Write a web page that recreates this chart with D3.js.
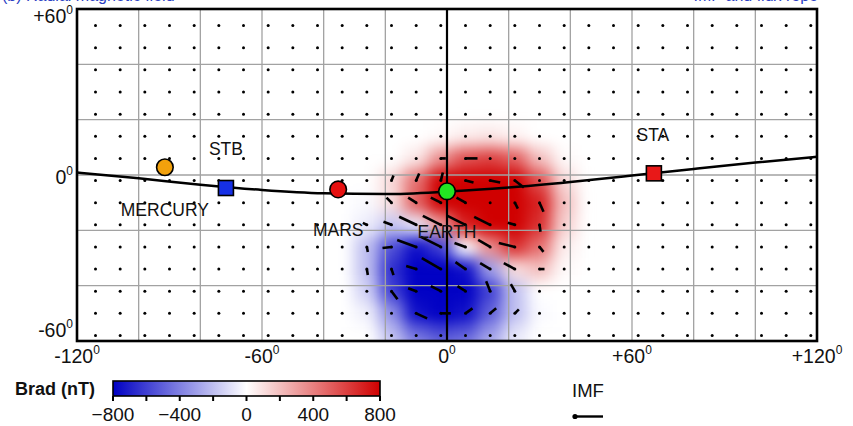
<!DOCTYPE html>
<html>
<head>
<meta charset="utf-8">
<script src="https://cdn.jsdelivr.net/npm/d3@7"></script>
<style>
  body { margin: 0; background: #ffffff; }
  svg { display: block; }
  text { font-family: "Liberation Sans", Arial, Helvetica, sans-serif; }
</style>
</head>
<body>
<svg id="chart" width="853" height="426"></svg>
<script>
// ---- Axis ticks ----------------------------------------------------------
const lonTickLabels = [-120, -60, 0, 60, 120];
const latTickLabels = [60, 0, -60];
const lonGrid = [-100, -80, -60, -40, -20, 20, 40, 60, 80, 100];
const latGrid = [40, 20, 0, -20, -40];
const cbarTickLabels = [-800, -400, 0, 400, 800];
const cbarTicks = [-800, -600, -400, -200, 0, 200, 400, 600, 800];

// ---- Ecliptic trace (heliographic latitude vs longitude, degrees) --------
const eclLon = [-120, -100, -80, -60, -40, -20, 0, 20, 40, 60, 80, 100, 120];
const eclLat = [0.9, -1.2, -3.5, -5.4, -6.6, -6.9, -6.0, -4.5, -2.5, -0.2, 2.2, 4.5, 6.6];

// ---- Bodies and spacecraft -----------------------------------------------
const bodyNames = ["MERCURY", "STB", "MARS", "EARTH", "STA"];
const bodyLon   = [-91.5, -71.7, -35.3, 0.0, 67.1];
const bodyLat   = [2.8, -4.7, -5.2, -5.9, 0.6];
const bodyShape = ["circle", "square", "circle", "circle", "square"];
const bodyColor = ["#f2a10c", "#1630e6", "#e61010", "#22e622", "#e81818"];

// ---- Radial field Brad (nT) on an 8-degree grid --------------------------
const fieldLon = [-42, -34, -26, -18, -10, -2, 6, 14, 22, 30, 38, 46];
const fieldLat = [22, 14, 6, -2, -10, -18, -26, -34, -42, -50, -58, -66];
const fieldBrad = [
  [0, 0, 0, 0, 0, 0, 0, 0, 0, 0, 0, 0],
  [0, 0, 0, 0, 0, 20, 60, 80, 40, 0, 0, 0],
  [0, 0, 0, 0, 80, 350, 550, 600, 500, 200, 20, 0],
  [0, 0, 0, 120, 450, 800, 800, 800, 800, 550, 120, 0],
  [0, 0, -20, 100, 500, 800, 800, 800, 800, 700, 200, 0],
  [0, 0, -60, -180, -60, 300, 700, 800, 800, 650, 150, 0],
  [0, 0, -200, -550, -750, -600, 0, 350, 650, 450, 60, 0],
  [0, 0, -200, -650, -800, -800, -750, -300, 100, 200, 20, 0],
  [0, 0, -150, -600, -800, -800, -800, -600, -200, 0, 0, 0],
  [0, 0, -50, -350, -750, -800, -750, -500, -200, -20, 0, 0],
  [0, 0, 0, -200, -450, -550, -500, -300, -80, 0, 0, 0],
  [0, 0, 0, -80, -200, -300, -250, -150, -40, 0, 0, 0]
];

// ---- Transverse field vectors (nT); all other grid points are zero -------
const vecLon = [-2, 6,
  -18, -10, -2, 6, 14, 22,
  -18, -10, -2, 6, 22, 30,
  -26, -18, -10, -2, 6, 14, 22, 30,
  -26, -18, -10, -2, 6, 14, 22, 30,
  -26, -18, -10, -2, 6, 14, 22, 30,
  -18, -10, -2, 6, 14, 22,
  -10, -2, 6, 14, 22];
const vecLat = [6, 6,
  -2, -2, -2, -2, -2, -2,
  -10, -10, -10, -10, -10, -10,
  -18, -18, -18, -18, -18, -18, -18, -18,
  -26, -26, -26, -26, -26, -26, -26, -26,
  -34, -34, -34, -34, -34, -34, -34, -34,
  -42, -42, -42, -42, -42, -42,
  -50, -50, -50, -50, -50];
const vecBx = [50, 120,
  20, 30, 20, 80, 100, 90,
  -50, -80, -100, -90, 30, 40,
  -40, -80, -170, -180, -180, -160, -70, 10,
  10, -90, -190, -200, -110, -120, -160, 40,
  10, 20, -100, -190, -100, -100, -110, 50,
  60, -80, -100, -80, -40, -40,
  110, 100, 70, 60, 40];
const vecBy = [0, 0,
  50, 70, 80, -20, -20, -70,
  50, 50, 50, 50, -60, -90,
  20, 30, 80, 90, 90, 80, 20, -70,
  -50, -10, 70, 100, 40, 70, 40, -50,
  -60, -60, 30, 110, 70, 60, 60, 0,
  -80, 30, 50, 50, 100, 70,
  -50, 0, 50, 50, 40];
const imfRef = 280; // legend vector magnitude (nT)

// ---- Layout ---------------------------------------------------------------
const svg = d3.select("#chart");
const plot = { left: 77, right: 817, top: 9, bottom: 341 };
const x = d3.scaleLinear().domain([-120, 120]).range([plot.left, plot.right]);
const y = d3.scaleLinear().domain([-60, 60]).range([plot.bottom, plot.top]);
const vecScale = d3.scaleLinear().domain([0, 100]).range([0, 10]);

const color = d3.scaleLinear()
  .domain([-800, 0, 800])
  .range(["#0000c4", "#ffffff", "#d00000"])
  .clamp(true);

const defs = svg.append("defs");
defs.append("clipPath").attr("id", "plotClip")
  .append("rect")
  .attr("x", plot.left).attr("y", plot.top)
  .attr("width", plot.right - plot.left).attr("height", plot.bottom - plot.top);
defs.append("filter").attr("id", "soft")
  .attr("x", "-30%").attr("y", "-30%").attr("width", "160%").attr("height", "160%")
  .attr("color-interpolation-filters", "sRGB")
  .append("feGaussianBlur").attr("stdDeviation", 7.5);

// Heading, cut by the top edge of the page
svg.append("text").attr("x", 2).attr("y", 1)
  .attr("font-size", 16).attr("fill", "#2b3fc4")
  .text("(b) Radial magnetic field");
svg.append("text").attr("x", 818).attr("y", 1).attr("text-anchor", "end")
  .attr("font-size", 16).attr("fill", "#2b3fc4")
  .text("IMF and flux rope");

// ---- Colour field ----------------------------------------------------------
const fieldCells = [];
fieldLat.forEach((lat, i) => fieldLon.forEach((lon, j) => {
  fieldCells.push({ lon, lat, v: fieldBrad[i][j] });
}));
const clipped = svg.append("g").attr("clip-path", "url(#plotClip)");
clipped.append("g").attr("filter", "url(#soft)")
  .selectAll("rect").data(fieldCells).join("rect")
  .attr("x", d => x(d.lon - 4))
  .attr("y", d => y(d.lat + 4))
  .attr("width", d => x(d.lon + 4) - x(d.lon - 4) + 0.5)
  .attr("height", d => y(d.lat - 4) - y(d.lat + 4) + 0.5)
  .attr("fill", d => color(d.v));

// ---- Grid ------------------------------------------------------------------
const grid = svg.append("g").attr("stroke", "#a2a2a2").attr("stroke-width", 1.3);
grid.selectAll("line.v").data(lonGrid).join("line").attr("class", "v")
  .attr("x1", d => x(d)).attr("x2", d => x(d))
  .attr("y1", plot.top).attr("y2", plot.bottom);
grid.selectAll("line.h").data(latGrid).join("line").attr("class", "h")
  .attr("x1", plot.left).attr("x2", plot.right)
  .attr("y1", d => y(d)).attr("y2", d => y(d));

// Central meridian
svg.append("line")
  .attr("x1", x(0)).attr("x2", x(0)).attr("y1", plot.top).attr("y2", plot.bottom)
  .attr("stroke", "#000").attr("stroke-width", 2.2);

// ---- Vector grid: dots at every sample, segments for the transverse field --
const sampleLon = d3.range(-114, 119, 8);
const sampleLat = d3.range(54, -59, -8);
const samples = [];
sampleLat.forEach(lat => sampleLon.forEach(lon => samples.push({ lon, lat })));
const vg = svg.append("g");
vg.selectAll("circle").data(samples).join("circle")
  .attr("cx", d => x(d.lon)).attr("cy", d => y(d.lat)).attr("r", 1.5)
  .attr("fill", "#000");
const vectors = vecLon.map((lon, i) => ({ lon, lat: vecLat[i], bx: vecBx[i], by: vecBy[i] }));
vg.selectAll("line").data(vectors).join("line")
  .attr("x1", d => x(d.lon)).attr("y1", d => y(d.lat))
  .attr("x2", d => x(d.lon) + vecScale(d.bx))
  .attr("y2", d => y(d.lat) - vecScale(d.by))
  .attr("stroke", "#000").attr("stroke-width", 2.6);

// ---- Ecliptic ------------------------------------------------------------------
const eclipticLine = d3.line()
  .x(d => x(d[0])).y(d => y(d[1]))
  .curve(d3.curveMonotoneX);
svg.append("path")
  .datum(eclLon.map((lon, i) => [lon, eclLat[i]]))
  .attr("d", eclipticLine)
  .attr("fill", "none").attr("stroke", "#000").attr("stroke-width", 2.5)
  .attr("clip-path", "url(#plotClip)");

// ---- Frame -------------------------------------------------------------------
svg.append("rect")
  .attr("x", plot.left).attr("y", plot.top)
  .attr("width", plot.right - plot.left).attr("height", plot.bottom - plot.top)
  .attr("fill", "none").attr("stroke", "#000").attr("stroke-width", 2.6);

// ---- Bodies ------------------------------------------------------------------
const bodies = bodyNames.map((name, i) => ({
  name, lon: bodyLon[i], lat: bodyLat[i], shape: bodyShape[i], fill: bodyColor[i]
}));
const bg = svg.append("g").attr("stroke", "#000").attr("stroke-width", 1.6);
bg.selectAll("circle").data(bodies.filter(b => b.shape === "circle")).join("circle")
  .attr("cx", d => x(d.lon)).attr("cy", d => y(d.lat)).attr("r", 8.3)
  .attr("fill", d => d.fill);
bg.selectAll("rect").data(bodies.filter(b => b.shape === "square")).join("rect")
  .attr("x", d => x(d.lon) - 7.5).attr("y", d => y(d.lat) - 7.5)
  .attr("width", 15).attr("height", 15)
  .attr("fill", d => d.fill);

// Body labels, placed beside each marker
const labelOffset = {
  MERCURY: [0, 49], STB: [0, -33], MARS: [0, 47], EARTH: [0, 47], STA: [-1, -32]
};
svg.append("g").selectAll("text").data(bodies).join("text")
  .attr("x", d => x(d.lon) + labelOffset[d.name][0])
  .attr("y", d => y(d.lat) + labelOffset[d.name][1])
  .attr("text-anchor", "middle")
  .attr("font-size", 17.5).attr("fill", "#111")
  .text(d => d.name);

// ---- Axis labels ---------------------------------------------------------------
function degLabel(sel, v) {
  const s = v > 0 ? "+" + v : (v < 0 ? "-" + Math.abs(v) : "0");
  sel.append("tspan").text(s);
  sel.append("tspan").attr("font-size", 12).attr("dy", -9).text("0");
}
lonTickLabels.forEach(v => {
  const t = svg.append("text").attr("x", x(v)).attr("y", 363)
    .attr("text-anchor", "middle").attr("font-size", 19.5).attr("fill", "#111");
  degLabel(t, v);
});
latTickLabels.forEach(v => {
  const shift = v === 60 ? 14 : (v === -60 ? -4 : 9);
  const t = svg.append("text").attr("x", 73).attr("y", y(v) + shift)
    .attr("text-anchor", "end").attr("font-size", 19.5).attr("fill", "#111");
  degLabel(t, v);
});

// ---- Colour bar ----------------------------------------------------------------
const cb = d3.scaleLinear().domain([-800, 800]).range([113, 380]);
const grad = defs.append("linearGradient").attr("id", "cbarGrad");
d3.range(-800, 801, 100).forEach(v => {
  grad.append("stop").attr("offset", (v + 800) / 1600).attr("stop-color", color(v));
});
svg.append("rect").attr("x", cb(-800)).attr("y", 381)
  .attr("width", cb(800) - cb(-800)).attr("height", 15)
  .attr("fill", "url(#cbarGrad)").attr("stroke", "#000").attr("stroke-width", 1.6);
svg.append("g").selectAll("line").data(cbarTicks).join("line")
  .attr("x1", d => cb(d)).attr("x2", d => cb(d)).attr("y1", 396).attr("y2", 401)
  .attr("stroke", "#000").attr("stroke-width", 2);
svg.append("g").selectAll("text").data(cbarTickLabels).join("text")
  .attr("x", d => cb(d)).attr("y", 421).attr("text-anchor", "middle")
  .attr("font-size", 19).attr("fill", "#111")
  .text(d => d < 0 ? "\u2212" + Math.abs(d) : String(d));
svg.append("text").attr("x", 15).attr("y", 395)
  .attr("font-family", "'DejaVu Sans', sans-serif").attr("font-weight", "bold")
  .attr("font-size", 18).attr("fill", "#111").text("Brad (nT)");

// ---- IMF legend ----------------------------------------------------------------
svg.append("text").attr("x", 572).attr("y", 397)
  .attr("font-size", 18.5).attr("fill", "#111").text("IMF");
svg.append("circle").attr("cx", 575).attr("cy", 416.5).attr("r", 2.6).attr("fill", "#000");
svg.append("line").attr("x1", 575).attr("y1", 416.5)
  .attr("x2", 575 + vecScale(imfRef)).attr("y2", 416.5)
  .attr("stroke", "#000").attr("stroke-width", 2.4);
</script>
</body>
</html>
